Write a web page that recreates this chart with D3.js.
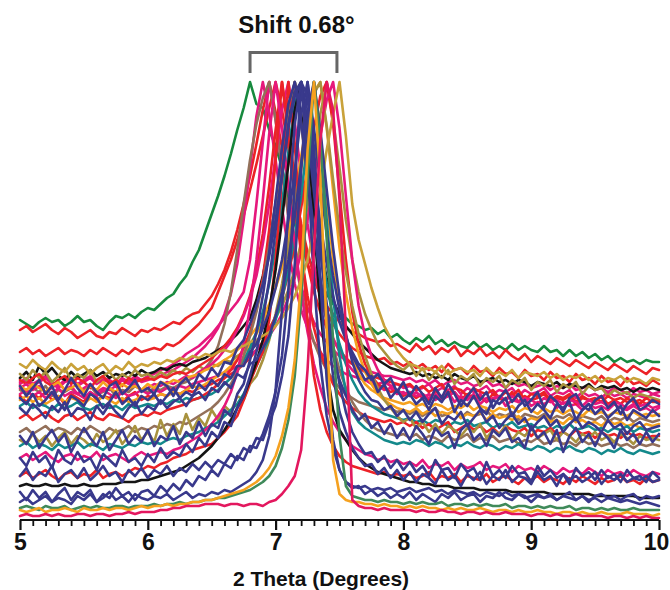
<!DOCTYPE html>
<html>
<head>
<meta charset="utf-8">
<script src="https://cdn.jsdelivr.net/npm/d3@7"></script>
<style>
  body { margin: 0; background: #fff; }
  text { font-family: "Liberation Sans", Arial, sans-serif; font-weight: bold; }
</style>
</head>
<body>
<svg id="chart" width="670" height="590"></svg>
<script>
// 2-theta grid shared by every scan (5.00 to 10.00 deg, 0.05 step)
const twoTheta = d3.range(101).map(i => 5 + i * 0.05);

// Normalised intensity of each scan at the grid points
const scanGreenA = [100,98,96,99,101,99,100,97,99,102,99,100,97,95,99,102,101,103,101,104,
  106,105,108,111,113,118,122,129,135,144,153,162,172,183,195,206,219,208,206,195,187,176,160,148,140,132,125,118,113,108,104,101,98,97,95,96,93,95,91,93,90,
  88,91,89,92,88,90,87,89,87,86,89,86,88,85,87,85,88,85,87,85,84,87,84,85,82,85,82,84,81,83,80,82,79,81,79,80,78,80,79,79];
const scanRedA = [95,97,94,96,98,95,93,96,94,91,93,95,92,91,94,93,96,94,92,95,
  94,96,95,97,99,98,101,103,104,108,112,118,125,134,145,158,172,188,205,219,204,186,168,152,139,128,120,113,107,103,99,96,94,93,91,90,89,90,87,88,86,
  84,88,85,87,83,86,84,87,82,85,83,86,82,84,81,85,82,80,83,79,82,80,78,81,79,77,80,78,76,79,77,75,78,76,74,77,75,73,76,75];
const scanRedB = [84,86,83,85,82,84,86,83,85,84,82,85,83,86,84,82,85,83,86,84,
  85,86,85,88,87,89,92,95,98,102,106,114,122,130,140,152,165,178,192,206,219,205,186,165,148,134,122,112,104,98,93,89,86,84,82,81,80,81,78,79,77,
  79,76,78,75,77,74,78,75,76,73,77,74,75,72,76,73,74,71,75,72,73,70,74,71,72,69,73,70,71,68,72,69,70,67,71,68,69,67,70,68];
const scanGoldA = [78,76,80,77,75,79,76,74,78,75,77,73,76,78,74,77,75,79,76,78,
  77,79,78,80,79,81,80,82,81,83,82,84,85,84,86,87,89,90,92,94,97,101,106,112,120,130,145,165,185,203,219,192,158,140,128,116,106,97,91,85,81,
  78,77,75,76,74,77,73,75,76,74,75,72,76,73,74,72,75,71,74,73,72,74,71,73,70,72,71,73,70,72,69,71,70,72,69,71,70,68,71,70];
const scanBlackA = [71,74,70,77,73,76,72,70,74,71,73,75,72,74,71,73,72,74,72,75,
  73,74,76,75,77,78,77,79,80,81,83,85,87,90,93,97,101,110,122,138,158,180,202,219,203,180,156,136,121,110,102,97,93,89,86,83,80,78,76,75,74,
  73,74,72,73,71,72,70,73,71,70,72,69,70,71,69,70,68,70,69,67,69,68,67,69,66,68,67,66,68,65,67,66,67,65,66,64,66,65,66,65];
const scanPinkA = [69,71,68,70,72,69,67,70,71,68,70,72,69,71,70,68,71,69,72,70,
  72,73,75,76,78,80,83,85,87,90,93,97,101,105,109,114,130,158,189,219,200,176,152,132,117,106,99,93,89,85,82,80,78,76,75,74,73,72,72,71,70,
  71,69,70,68,70,67,69,70,68,69,67,68,70,67,68,66,69,67,68,66,67,68,65,67,66,68,65,66,67,65,66,64,66,65,63,66,64,65,63,64];
const scanGoldB = [73,70,75,71,74,69,72,76,70,73,71,75,69,72,74,70,73,71,75,72,
  73,71,74,72,75,73,76,74,77,75,78,77,80,79,82,84,86,89,92,96,101,107,115,125,139,157,180,203,219,200,176,150,130,114,103,95,88,84,80,77,75,
  78,72,76,70,74,71,75,68,72,70,73,67,71,69,72,66,70,68,71,65,69,67,70,64,68,66,69,63,67,65,66,62,65,63,64,61,63,62,61,60];
const scanRedC = [70,68,71,73,69,67,70,72,68,71,69,66,70,72,68,70,67,71,69,70,
  71,70,72,71,73,74,73,75,77,79,81,84,87,91,96,103,112,125,143,167,195,219,197,170,146,128,114,104,96,90,85,81,78,76,74,72,71,70,69,68,67,
  68,65,67,64,66,68,63,66,65,62,66,64,63,65,61,64,62,65,60,63,62,64,60,62,61,63,59,62,60,61,59,62,60,58,61,59,60,58,60,59];
const scanNavyA = [67,62,66,70,63,67,60,65,71,66,62,68,64,61,67,69,63,66,70,64,
  66,63,69,67,62,68,71,66,73,70,76,72,79,78,86,90,98,107,118,132,150,172,196,212,219,198,172,148,128,112,99,90,84,78,75,70,73,68,71,64,69,
  62,67,63,58,66,61,68,63,57,62,66,60,64,56,61,65,59,63,57,60,64,56,62,59,54,61,63,57,55,60,62,56,59,53,58,61,55,57,60,58];
const scanPinkB = [66,68,65,67,64,66,69,65,67,63,66,68,64,66,65,67,63,66,68,65,
  66,68,67,69,68,70,72,71,74,76,78,81,85,89,95,102,111,122,138,158,182,205,219,199,172,148,128,112,100,91,84,79,75,72,70,68,67,65,66,63,64,
  62,64,61,63,60,62,64,59,62,60,63,58,61,60,62,57,60,59,61,57,59,58,60,56,59,57,58,55,58,56,57,55,58,56,55,57,55,56,54,56];
const scanBrownA = [65,63,66,64,67,62,65,64,66,63,65,67,63,64,66,62,65,64,67,65,
  64,66,65,67,66,68,69,71,73,76,80,87,98,114,135,158,180,198,211,219,200,176,152,131,114,100,89,81,75,70,66,63,61,59,58,57,56,55,56,54,55,
  53,55,52,54,56,52,53,55,51,54,52,53,55,51,53,52,54,50,53,52,51,53,50,52,51,53,49,52,51,50,52,49,51,50,52,49,51,50,49,50];
const scanNavyB = [61,58,63,57,60,64,59,55,62,60,57,63,61,56,59,64,58,61,57,62,
  60,63,58,62,66,61,64,62,68,65,70,67,73,71,77,77,84,88,96,104,116,130,150,175,203,219,196,168,143,122,105,92,82,76,70,72,64,68,61,65,60,
  63,58,61,55,62,59,64,54,60,57,62,56,53,60,58,61,52,57,60,54,58,55,51,58,56,59,50,55,58,53,56,51,54,57,50,55,53,51,55,52];
const scanOrangeA = [60,62,59,61,58,60,62,59,61,60,58,61,59,62,60,58,61,59,60,62,
  60,61,63,62,64,63,65,67,66,68,70,72,74,77,80,84,88,93,99,107,117,129,144,162,182,200,214,219,196,165,136,113,96,83,74,68,63,60,58,56,55,
  54,56,53,55,52,54,53,55,51,53,52,54,50,53,51,52,50,52,49,51,50,52,49,50,48,51,49,50,48,49,47,50,48,49,47,48,46,48,47,48];
const scanTealA = [57,59,56,58,57,55,58,56,57,59,56,55,57,58,56,57,55,58,56,57,
  58,57,59,58,60,59,61,60,61,62,63,65,68,71,75,80,86,94,104,118,136,158,184,208,219,196,166,140,118,101,88,78,70,64,60,57,55,53,52,51,50,
  51,49,50,48,50,49,47,49,48,50,47,48,49,46,48,47,49,46,47,48,46,47,45,47,46,48,45,46,47,45,46,44,46,45,47,44,46,45,44,45];
const scanRedD = [51,53,50,52,54,51,49,52,53,50,52,54,51,50,53,52,51,49,52,53,
  52,54,53,55,56,57,58,60,61,63,65,68,71,75,80,86,94,105,121,145,180,219,192,160,133,112,96,84,75,68,63,59,56,54,52,51,50,49,50,48,49,
  47,49,46,48,45,47,49,44,46,48,45,47,44,46,43,47,45,44,46,42,45,44,46,43,44,42,45,43,44,41,44,42,43,41,44,42,43,41,42,42];
const scanBrownB = [44,46,43,45,47,44,46,45,43,46,44,47,45,43,46,44,45,47,44,46,
  45,47,46,48,47,49,48,50,52,54,56,59,63,68,74,82,92,104,119,137,158,182,205,219,198,170,144,121,102,87,75,66,59,54,50,47,45,44,43,42,43,
  41,43,40,42,41,39,42,40,41,43,39,41,40,42,39,40,41,38,40,39,41,38,39,40,38,39,37,40,38,39,37,38,39,37,38,36,38,37,38,37];
const scanOliveA = [40,38,43,39,42,37,41,44,38,42,40,37,43,39,41,45,38,42,47,40,
  44,39,50,42,48,43,53,45,51,47,55,50,57,54,62,60,68,72,80,90,103,118,136,156,178,198,213,219,197,170,145,124,107,93,82,73,66,60,56,52,49,
  51,46,49,44,48,43,47,45,42,46,44,48,41,45,43,47,40,44,42,46,41,43,45,40,44,42,39,43,41,44,40,42,39,43,41,38,42,40,41,40];
const scanNavyC = [42,38,44,36,41,45,39,43,34,40,46,41,37,44,35,40,45,38,42,39,
  45,37,42,40,47,38,44,41,49,42,48,46,55,52,63,68,80,94,112,134,160,186,208,219,199,172,145,120,98,82,70,62,55,50,53,46,49,43,48,41,46,
  40,47,43,38,46,42,44,36,45,48,40,43,37,45,42,46,39,41,36,47,41,44,38,45,34,42,46,39,43,37,44,41,36,45,40,43,38,44,39,43];
const scanTealB = [37,39,36,38,37,35,38,36,37,39,36,38,37,35,38,37,36,38,37,39,
  38,39,38,40,41,40,42,43,44,46,47,49,52,55,58,63,70,77,84,91,100,111,125,142,162,190,219,188,150,112,82,64,54,49,46,44,42,40,39,38,39,
  38,40,39,37,39,38,36,38,37,39,37,36,38,37,35,37,36,38,36,35,37,36,34,36,35,37,35,34,36,35,33,35,34,36,34,33,35,34,33,34];
const scanNavyD = [31,27,34,29,32,26,35,30,28,34,29,31,25,33,30,27,35,29,31,27,
  33,29,36,31,34,32,38,34,41,37,44,41,49,47,56,62,72,84,100,120,145,172,198,214,219,194,164,134,108,86,68,54,44,38,33,34,29,32,26,30,25,
  29,24,27,22,30,25,26,21,28,24,26,20,29,22,25,21,27,23,24,19,27,22,25,21,23,18,26,22,24,20,25,21,23,19,25,21,22,19,24,21];
const scanPinkC = [31,33,30,32,34,31,29,32,33,30,32,31,34,30,32,33,31,29,32,34,
  32,33,34,33,35,36,38,40,42,45,48,52,57,64,74,88,106,130,160,193,219,196,166,138,114,94,78,66,56,49,44,40,37,35,33,32,30,31,29,30,28,
  29,27,30,26,28,27,29,25,28,26,27,29,25,27,26,28,24,27,25,26,24,27,25,23,26,24,25,23,26,24,22,25,23,24,22,25,23,22,24,23];
const scanNavyE = [22,26,20,24,22,27,19,23,25,21,26,20,23,27,22,24,19,25,22,26,
  21,25,23,27,22,26,24,28,25,29,26,30,28,33,30,36,34,41,40,49,57,72,92,128,175,219,186,140,100,72,54,44,36,31,27,28,23,26,21,25,20,
  24,19,23,21,18,25,20,22,17,23,20,24,18,22,20,25,19,22,21,18,24,20,22,17,23,20,22,19,21,24,18,22,20,23,19,21,20,22,19,20];
const scanRedE = [22,24,21,23,25,22,20,23,24,21,23,22,25,21,23,24,22,24,26,25,
  27,26,28,29,31,32,33,35,36,37,38,41,44,48,52,60,69,77,84,100,130,172,219,188,140,100,72,55,44,37,32,29,27,26,25,24,23,24,22,23,22,
  23,21,22,24,20,22,21,23,19,22,21,20,23,19,21,22,20,18,21,20,22,19,21,20,18,21,19,22,20,18,21,19,20,22,19,20,18,21,19,20];
const scanBlackB = [17,18,17,17,18,17,17,18,17,17,18,17,17,18,18,18,19,19,19,20,
  20,21,22,23,24,25,27,29,31,34,37,41,45,50,56,62,70,79,90,105,125,150,178,205,219,195,150,105,75,55,45,40,35,31,28,26,24,23,22,21,20,
  19,19,18,18,17,17,17,16,16,16,16,15,15,15,15,15,14,14,14,14,14,14,13,13,13,13,13,13,13,12,12,12,12,12,12,12,11,11,11,11];
const scanNavyF = [14,10,15,11,14,9,13,16,10,14,12,15,9,13,11,16,12,14,10,14,
  15,12,17,14,18,15,20,17,22,20,25,22,28,26,32,30,37,36,43,52,64,82,115,168,219,178,120,78,52,36,25,19,16,17,13,15,12,14,11,13,11,
  14,10,13,11,9,13,11,14,10,12,13,9,12,11,14,11,10,13,12,9,12,11,13,10,12,14,10,12,9,12,13,11,12,10,12,13,10,12,11,12];
const scanNavyG = [9,11,8,10,12,9,11,10,8,12,10,13,9,11,14,10,12,9,13,11,
  10,12,11,13,10,12,14,11,13,12,14,13,15,14,16,18,20,24,30,42,65,105,155,198,219,212,175,120,70,40,25,19,17,16,17,15,16,15,16,14,15,
  16,14,15,16,14,15,13,15,14,13,14,12,14,13,12,14,12,13,11,12,13,11,12,10,12,11,10,12,10,11,9,11,10,9,10,9,8,9,8,7];
const scanGreenB = [6,7,6,5,7,6,6,7,5,6,7,6,7,6,6,7,7,6,7,7,
  7,8,7,8,8,9,8,9,9,10,10,11,11,12,13,14,15,17,19,22,27,36,50,72,110,170,219,190,140,90,42,17,12,11,10,10,9,10,9,9,8,
  9,8,9,8,8,9,7,8,8,7,8,7,8,7,7,8,6,7,7,6,7,6,7,6,6,7,5,6,6,5,6,5,6,5,5,6,5,5,5,5];
const scanOrangeB = [5,4,5,6,4,5,5,6,5,4,6,5,5,6,5,6,6,5,6,7,
  6,7,7,8,7,8,8,9,9,10,10,11,12,13,14,15,17,19,22,26,32,42,56,80,120,185,219,170,95,30,13,10,9,9,8,8,7,8,7,7,6,
  7,6,7,6,6,5,6,5,6,5,5,6,5,4,5,5,4,5,4,4,5,4,4,3,4,4,3,4,3,3,4,3,3,3,4,3,3,3,2,3];
const scanPinkD = [2,3,2,2,3,2,3,2,2,3,3,2,3,3,2,3,3,4,3,4,
  4,4,5,5,6,6,7,7,7,8,8,8,7,8,8,7,8,8,7,9,10,13,17,22,35,75,135,190,219,205,160,95,10,7,6,6,5,6,5,5,5,
  5,4,5,4,4,5,4,4,3,4,4,3,4,3,3,4,3,3,3,2,3,3,2,3,2,2,3,2,2,2,2,1,2,2,1,2,1,2,1,1];
const scanPinkE = [63,65,62,64,61,63,66,62,64,63,61,64,62,65,63,61,64,62,63,65,
  63,65,64,66,65,67,66,68,69,70,71,72,74,75,77,79,82,85,88,92,97,103,111,121,134,150,170,192,210,219,196,162,130,107,92,82,75,70,67,65,63,
  64,62,63,61,63,60,62,64,60,62,61,63,59,61,62,60,62,59,61,60,58,61,59,60,58,60,59,57,60,58,59,57,59,58,56,58,57,58,56,57];
const scanRedF = [62,59,63,61,64,60,62,58,63,61,59,64,60,62,61,63,59,62,64,60,
  62,61,63,62,64,63,65,64,66,67,68,70,71,73,75,78,81,85,89,95,102,111,123,138,156,176,196,212,219,198,164,130,104,88,78,72,68,66,64,65,62,
  64,61,63,60,65,61,62,64,60,63,61,62,59,63,61,60,64,59,62,60,61,63,59,61,60,62,58,61,60,59,62,58,60,61,59,60,58,61,59,59];
const scanNavyH = [56,53,58,55,51,57,54,59,52,56,55,50,57,53,58,54,51,56,59,53,
  57,55,60,56,59,61,57,62,64,60,66,64,69,66,73,71,78,80,86,92,102,114,130,152,178,204,219,195,165,136,112,93,79,70,64,60,59,55,57,52,55,
  50,54,49,53,56,48,52,50,54,47,51,55,49,52,46,50,53,48,51,45,49,52,47,50,44,48,51,46,49,47,44,50,46,48,43,47,49,45,46,47];
const scanOrangeC = [67,65,68,66,64,67,69,65,66,68,64,67,65,69,66,64,68,66,67,65,
  68,66,69,68,70,69,71,72,73,75,76,78,80,82,85,88,92,96,101,108,116,126,139,155,175,198,219,193,160,130,107,91,80,73,68,65,63,61,60,59,58,
  59,57,58,56,58,57,55,57,56,58,55,57,56,54,56,55,57,54,56,55,53,56,54,55,53,55,54,52,55,53,54,52,54,53,52,54,52,53,52,53];
const scanPinkF = [68,70,67,69,71,68,66,69,70,67,69,71,68,70,69,67,70,68,71,69,
  70,71,72,74,75,77,79,81,84,87,91,96,103,113,128,150,176,202,219,203,180,156,135,118,105,96,89,84,80,77,75,73,72,71,70,69,68,69,67,68,66,
  67,65,66,68,64,66,65,67,63,66,64,65,67,63,65,64,66,62,65,63,64,66,62,64,63,65,61,64,62,63,61,64,62,63,61,63,62,61,63,62];

// Axis ticks, peak-shift marker and texts
const majorTicks = [5, 6, 7, 8, 9, 10];
const minorTicks = d3.range(51).map(i => 5 + i * 0.1).filter(v => Math.abs(v - Math.round(v)) > 1e-6);
const shiftFrom = 6.80, shiftTo = 7.48;
const titleText = "Shift 0.68\u00B0";
const axisTitle = "2 Theta (Degrees)";

const palette = {
  green: "#178a3e", green2: "#3f8a5a", red: "#ec2227", pink: "#e6187c", crimson: "#e3175e",
  black: "#141414", gold: "#c9a23a", olive: "#a8923e", brown: "#93705a",
  navy: "#39398c", teal: "#13898b", orange: "#f5a11f"
};

// Drawing order (first drawn sits underneath)
const scans = [
  [scanGreenA, palette.green], [scanRedA, palette.red], [scanRedB, palette.red],
  [scanPinkF, palette.pink], [scanPinkA, palette.pink], [scanBrownA, palette.brown],
  [scanBlackA, palette.black], [scanGoldB, palette.olive], [scanRedC, palette.red],
  [scanPinkB, palette.pink], [scanRedF, palette.red], [scanPinkE, palette.pink],
  [scanOrangeC, palette.orange], [scanOrangeA, palette.orange], [scanTealA, palette.teal],
  [scanRedD, palette.red], [scanBrownB, palette.brown], [scanOliveA, palette.olive],
  [scanTealB, palette.teal], [scanPinkC, palette.pink], [scanRedE, palette.red],
  [scanBlackB, palette.black], [scanGoldA, palette.gold],
  [scanNavyA, palette.navy], [scanNavyB, palette.navy], [scanNavyH, palette.navy],
  [scanNavyC, palette.navy], [scanNavyD, palette.navy], [scanNavyE, palette.navy],
  [scanNavyF, palette.navy], [scanNavyG, palette.navy],
  [scanGreenB, palette.green2], [scanOrangeB, palette.orange], [scanPinkD, palette.crimson]
];

const svg = d3.select("#chart");
const x = d3.scaleLinear().domain([5, 10]).range([20, 659]);
const y = d3.scaleLinear().domain([0, 220]).range([520, 80]);

const line = d3.line()
  .x((d, i) => x(twoTheta[i]))
  .y(d => y(d));

svg.append("g")
  .attr("fill", "none")
  .attr("stroke-width", 2.6)
  .attr("stroke-linejoin", "round")
  .attr("stroke-linecap", "round")
  .selectAll("path")
  .data(scans)
  .join("path")
  .attr("stroke", d => d[1])
  .attr("d", d => line(d[0]));

// minor ticks
svg.append("g")
  .attr("transform", `translate(0,${y(0)})`)
  .call(d3.axisBottom(x).tickValues(minorTicks).tickSize(6).tickFormat(""))
  .call(g => g.select(".domain").remove())
  .call(g => g.selectAll("line").attr("stroke", "#111").attr("stroke-width", 1.8));

// major ticks + labels
svg.append("g")
  .attr("transform", `translate(0,${y(0)})`)
  .call(d3.axisBottom(x).tickValues(majorTicks).tickSize(10).tickPadding(4).tickFormat(d3.format("d")))
  .call(g => g.select(".domain").attr("stroke", "#111").attr("stroke-width", 2.2).attr("d", `M${x(5)},0H${x(10)}`))
  .call(g => g.selectAll("line").attr("stroke", "#111").attr("stroke-width", 2.2))
  .call(g => g.selectAll("text")
    .attr("fill", "#111")
    .attr("dx", d => d === 10 ? -3 : 0)
    .style("font-size", "23px")
    .style("font-weight", "bold"));

// axis title
svg.append("text")
  .attr("x", 321).attr("y", 586)
  .attr("text-anchor", "middle")
  .attr("fill", "#111")
  .style("font-size", "21px")
  .text(axisTitle);

// peak-shift bracket
svg.append("path")
  .attr("fill", "none")
  .attr("stroke", "#666")
  .attr("stroke-width", 3)
  .attr("d", `M${x(shiftFrom)},73V52.5H${x(shiftTo)}V73`);

svg.append("text")
  .attr("x", (x(shiftFrom) + x(shiftTo)) / 2 + 3)
  .attr("y", 33)
  .attr("text-anchor", "middle")
  .attr("fill", "#111")
  .style("font-size", "24px")
  .text(titleText);
</script>
</body>
</html>
